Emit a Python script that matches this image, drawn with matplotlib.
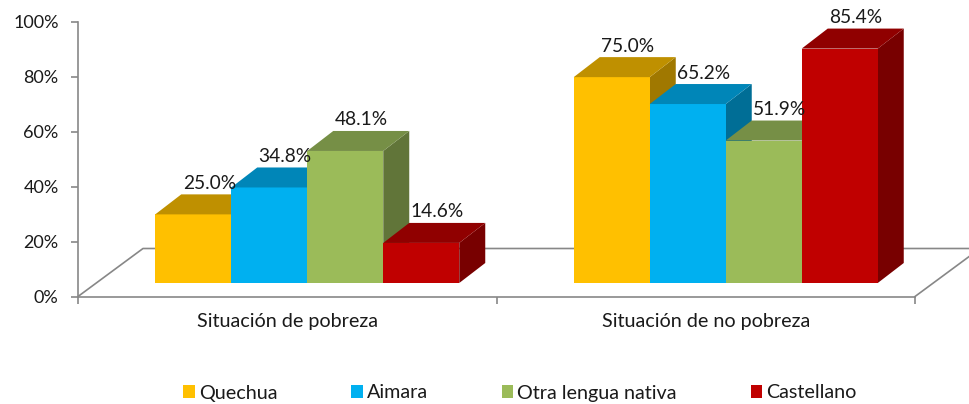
import matplotlib
matplotlib.use("Agg")
import matplotlib.pyplot as plt
from matplotlib.patches import Polygon, Patch

categories = ["Situación de pobreza", "Situación de no pobreza"]
series = ["Quechua", "Aimara", "Otra lengua nativa", "Castellano"]
values = {
    "Quechua": [25.0, 75.0],
    "Aimara": [34.8, 65.2],
    "Otra lengua nativa": [48.1, 51.9],
    "Castellano": [14.6, 85.4],
}
front_colors = ["#FFC000", "#00B0F0", "#9BBB59", "#C00000"]
top_colors = ["#BF9000", "#0086B8", "#768F46", "#900000"]
side_colors = ["#A07800", "#006E96", "#617539", "#780000"]
yticks = [0, 20, 40, 60, 80, 100]

FONT = ["Lato", "DejaVu Sans"]
plt.rcParams["font.family"] = FONT

W, H, DPI = 969, 404, 100
fig = plt.figure(figsize=(W / DPI, H / DPI), dpi=DPI)
ax_l, ax_r, ax_b, ax_t = 78, 915, 296.5, 22
ax = fig.add_axes([ax_l / W, (H - ax_b) / H, (ax_r - ax_l) / W, (ax_b - ax_t) / H])
ax.set_xlim(-0.5, 1.5)
ax.set_ylim(0, 100)

# pixel -> data conversions
px_x = 2.0 / (ax_r - ax_l)
px_y = 100.0 / (ax_b - ax_t)

FLOOR_DX, FLOOR_DY = 65 * px_x, 48 * px_y
BAR_OFF_X, BAR_OFF_Y = 20 * px_x, 13.5 * px_y
DEPTH_X, DEPTH_Y = 26 * px_x, 20 * px_y
BAR_W = 76 * px_x
LABEL_DX = 16 * px_x
AXC = "#878787"
LW = 1.2
TXT = "#1a1a1a"

# floor outline
ax.plot([-0.5, -0.5 + FLOOR_DX, 1.5 + FLOOR_DX], [0, FLOOR_DY, FLOOR_DY],
        color=AXC, lw=LW, clip_on=False, zorder=1)
ax.plot([1.5, 1.5 + FLOOR_DX], [0, FLOOR_DY], color=AXC, lw=LW, clip_on=False, zorder=1)

n = len(series)
for g in range(len(categories)):
    for i, s in enumerate(series):
        v = values[s][g]
        x0 = g - n * BAR_W / 2 + i * BAR_W + BAR_OFF_X
        x1 = x0 + BAR_W
        y0 = BAR_OFF_Y
        y1 = BAR_OFF_Y + v
        z = 3 + i
        # side face
        ax.add_patch(Polygon([(x1, y0), (x1 + DEPTH_X, y0 + DEPTH_Y),
                              (x1 + DEPTH_X, y1 + DEPTH_Y), (x1, y1)],
                             closed=True, facecolor=side_colors[i], edgecolor="none",
                             zorder=z, clip_on=False))
        # front face
        ax.add_patch(Polygon([(x0, y0), (x1, y0), (x1, y1), (x0, y1)], closed=True,
                             facecolor=front_colors[i], edgecolor="none", zorder=z,
                             clip_on=False))
        # top face
        ax.add_patch(Polygon([(x0, y1), (x1, y1), (x1 + DEPTH_X, y1 + DEPTH_Y),
                              (x0 + DEPTH_X, y1 + DEPTH_Y)], closed=True,
                             facecolor=top_colors[i], edgecolor="none", zorder=z,
                             clip_on=False))
        ax.text((x0 + x1) / 2 + LABEL_DX, y1 + DEPTH_Y + 11 * px_y,
                f"{v:.1f}%", ha="center", va="center", fontsize=13.8,
                color=TXT, zorder=20, clip_on=False)

for side in ["top", "right"]:
    ax.spines[side].set_visible(False)
for side in ["left", "bottom"]:
    ax.spines[side].set_color(AXC)
    ax.spines[side].set_linewidth(LW)
    ax.spines[side].set_zorder(2)

ax.set_yticks(yticks)
ax.set_yticklabels([f"{t}%" for t in yticks], fontsize=13, color=TXT)
ax.tick_params(axis="y", direction="out", length=5, width=LW, color=AXC, pad=9)

ax.set_xticks([-0.5, 0.5, 1.5])
ax.set_xticklabels([])
ax.tick_params(axis="x", which="major", direction="out", length=5, width=LW, color=AXC)
ax.set_xticks([0, 1], minor=True)
ax.set_xticklabels(categories, minor=True, fontsize=14.2, color=TXT)
ax.tick_params(axis="x", which="minor", length=0, pad=12)

LEG_FS = 14.2
em = LEG_FS * DPI / 72.0
handles = [Patch(facecolor=c, edgecolor="none") for c in front_colors]
leg = fig.legend(handles, series, loc="center", bbox_to_anchor=(520 / W, (H - 393) / H),
                 ncol=4, frameon=False, fontsize=LEG_FS, handlelength=11.5 / em,
                 handleheight=11.5 / em, handletextpad=4 / em, columnspacing=74 / em,
                 borderpad=0, borderaxespad=0)
for t in leg.get_texts():
    t.set_color(TXT)

fig.savefig("out.png", dpi=DPI)
